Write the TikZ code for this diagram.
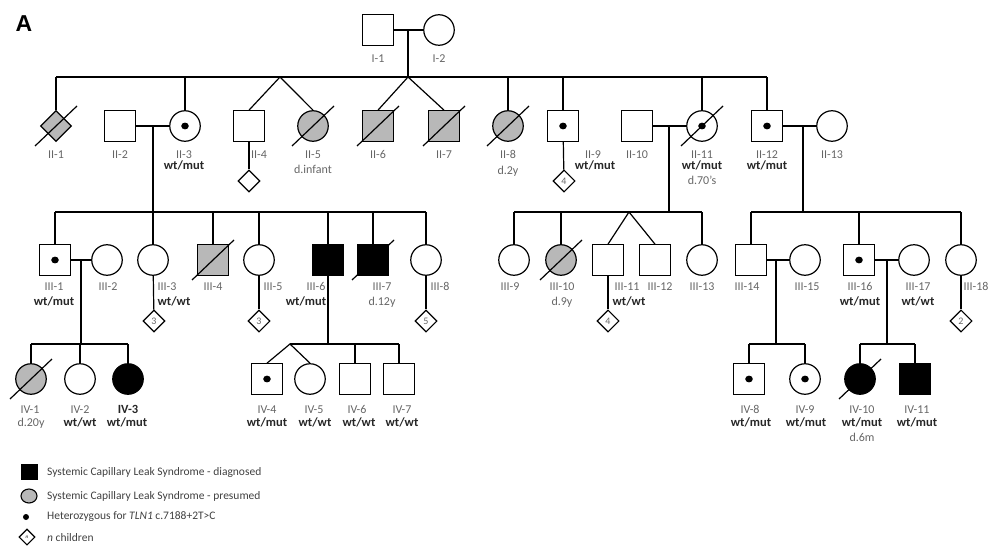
\documentclass[tikz,border=0pt]{standalone}
\usepackage{fontspec}
\setmainfont{Carlito}
\newfontfamily\panelfont{Liberation Sans}
\usetikzlibrary{shapes.geometric}
\colorlet{idgray}{black!60}
\colorlet{affgray}{black!28}
\tikzset{
  person/.style = {draw, line width=1.2pt, inner sep=0pt, minimum size=30.5pt},
  male/.style = {person, rectangle},
  female/.style = {person, circle},
  unknown/.style = {person, diamond, minimum size=31pt},
  kids/.style = {draw, line width=1.1pt, diamond, inner sep=0pt, minimum size=22pt,
    font=\fontsize{10}{10}\selectfont, text=idgray},
  diagnosed/.style = {fill=black},
  presumed/.style = {fill=affgray},
  carrier/.style = {path picture={\fill[black] (path picture bounding box.center) ellipse (3.8pt and 3.4pt);}},
  line/.style = {line width=1.2pt},
  idtext/.style = {font=\fontsize{12}{12}\selectfont, text=idgray, inner sep=0pt, text height=8pt, text depth=2pt},
  geno/.style = {font=\fontsize{12.5}{12.5}\selectfont\bfseries, text=black!85, inner sep=0pt, text height=8pt, text depth=2pt},
  keytext/.style = {font=\fontsize{11.5}{11.5}\selectfont, text=black!75, anchor=west, inner sep=0pt}
}
\newcommand{\deceased}[1]{\draw[line] ([shift={(-21,20)}]#1.center) -- ([shift={(21,-20)}]#1.center);}

\begin{document}
\begin{tikzpicture}[x=1pt,y=-1pt]
  \useasboundingbox (0,0) rectangle (1000,556);
  \node[font=\panelfont\bfseries\fontsize{23}{23}\selectfont] (panel) at (24,24) {A};
  % generation I
  \node[male] (I1) at (378,30) {};
  \node[female] (I2) at (439,30) {};
  \coordinate (mI) at (408,30);
  \coordinate (sI) at (408,77);
  \draw[line] (I1) -- (I2);
  \draw[line] (mI) -- (sI);
  % generation II
  \node[unknown,presumed] (II1) at (56,126) {};
  \node[male] (II2) at (120,126) {};
  \node[female,carrier] (II3) at (185,126) {};
  \node[male] (II4) at (249,126) {};
  \node[female,presumed] (II5) at (313,126) {};
  \node[male,presumed] (II6) at (378,126) {};
  \node[male,presumed] (II7) at (444,126) {};
  \node[female,presumed] (II8) at (508,126) {};
  \node[male,carrier] (II9) at (563,126) {};
  \node[male] (II10) at (637,126) {};
  \node[female,carrier] (II11) at (702,126) {};
  \node[male,carrier] (II12) at (767,126) {};
  \node[female] (II13) at (832,126) {};
  \foreach \p in {II1,II5,II6,II7,II8,II11} {\deceased{\p}}
  \draw[line] (II1.north |- sI) -- (II12.north |- sI);
  \foreach \c in {II1,II3,II8,II9,II11,II12} {\draw[line] (\c.north) -- (\c.north |- sI);}
  \coordinate (twII) at (280,77);
  \draw[line] (II4.north) -- (twII) -- (II5.north);
  \draw[line] (II6.north) -- (sI) -- (II7.north);
  \node[kids] (kII4) at (249,181) {};
  \node[kids] (kII9) at (564,181) {4};
  \draw[line] (II4) -- (kII4);
  \draw[line] (II9) -- (kII9);
  % couples of generation II
  \coordinate (mII3) at (153,126);
  \coordinate (sII3) at (153,212);
  \coordinate (mII11) at (669,126);
  \coordinate (sII11) at (669,212);
  \coordinate (mII12) at (803,126);
  \coordinate (sII12) at (803,212);
  \draw[line] (II2) -- (II3);
  \draw[line] (II10) -- (II11);
  \draw[line] (II12) -- (II13);
  \draw[line] (mII3) -- (sII3);
  \draw[line] (mII11) -- (sII11);
  \draw[line] (mII12) -- (sII12);
  % generation III
  \node[male,carrier] (III1) at (55,260) {};
  \node[female] (III2) at (107,260) {};
  \node[female] (III3) at (153,260) {};
  \node[male,presumed] (III4) at (213,260) {};
  \node[female] (III5) at (259,260) {};
  \node[male,diagnosed] (III6) at (328,260) {};
  \node[male,diagnosed] (III7) at (373,260) {};
  \node[female] (III8) at (426,260) {};
  \node[female] (III9) at (514,260) {};
  \node[female,presumed] (III10) at (561,260) {};
  \node[male] (III11) at (608,260) {};
  \node[male] (III12) at (655,260) {};
  \node[female] (III13) at (702,260) {};
  \node[male] (III14) at (751,260) {};
  \node[female] (III15) at (805,260) {};
  \node[male,carrier] (III16) at (859,260) {};
  \node[female] (III17) at (914,260) {};
  \node[female] (III18) at (961,260) {};
  \foreach \p in {III4,III7,III10} {\deceased{\p}}
  \draw[line] (III1.north |- sII3) -- (III8.north |- sII3);
  \foreach \c in {III1,III3,III4,III5,III6,III7,III8} {\draw[line] (\c.north) -- (\c.north |- sII3);}
  \draw[line] (III9.north |- sII11) -- (III13.north |- sII11);
  \foreach \c in {III9,III10,III13} {\draw[line] (\c.north) -- (\c.north |- sII11);}
  \coordinate (twIII) at (629,212);
  \draw[line] (III11.north) -- (twIII) -- (III12.north);
  \draw[line] (III14.north |- sII12) -- (III18.north |- sII12);
  \foreach \c in {III14,III16,III18} {\draw[line] (\c.north) -- (\c.north |- sII12);}
  \node[kids] (kIII3) at (154,321) {3};
  \node[kids] (kIII5) at (259,321) {3};
  \node[kids] (kIII8) at (426,321) {5};
  \node[kids] (kIII11) at (608,321) {4};
  \node[kids] (kIII18) at (961,321) {2};
  \foreach \p in {III3,III5,III8,III11,III18} {\draw[line] (\p) -- (k\p);}
  % couples of generation III
  \coordinate (mIII1) at (81,260);
  \coordinate (sIII1) at (81,344);
  \coordinate (sIII6) at (328,344);
  \coordinate (mIII14) at (776,260);
  \coordinate (sIII14) at (776,344);
  \coordinate (mIII16) at (887,260);
  \coordinate (sIII16) at (887,344);
  \draw[line] (III1) -- (III2);
  \draw[line] (III14) -- (III15);
  \draw[line] (III16) -- (III17);
  \draw[line] (mIII1) -- (sIII1);
  \draw[line] (III6.south) -- (sIII6);
  \draw[line] (mIII14) -- (sIII14);
  \draw[line] (mIII16) -- (sIII16);
  % generation IV
  \node[female,presumed] (IV1) at (31,379) {};
  \node[female] (IV2) at (80,379) {};
  \node[female,diagnosed] (IV3) at (128,379) {};
  \node[male,carrier] (IV4) at (267,379) {};
  \node[female] (IV5) at (310,379) {};
  \node[male] (IV6) at (355,379) {};
  \node[male] (IV7) at (399,379) {};
  \node[male,carrier] (IV8) at (749,379) {};
  \node[female,carrier] (IV9) at (805,379) {};
  \node[female,diagnosed] (IV10) at (860,379) {};
  \node[male,diagnosed] (IV11) at (915,379) {};
  \foreach \p in {IV1,IV10} {\deceased{\p}}
  \draw[line] (IV1.north |- sIII1) -- (IV3.north |- sIII1);
  \foreach \c in {IV1,IV2,IV3} {\draw[line] (\c.north) -- (\c.north |- sIII1);}
  \coordinate (twIV) at (290,344);
  \draw[line] (twIV) -- (IV7.north |- sIII6);
  \draw[line] (IV4.north) -- (twIV) -- (IV5.north);
  \foreach \c in {IV6,IV7} {\draw[line] (\c.north) -- (\c.north |- sIII6);}
  \draw[line] (IV8.north |- sIII14) -- (IV9.north |- sIII14);
  \foreach \c in {IV8,IV9} {\draw[line] (\c.north) -- (\c.north |- sIII14);}
  \draw[line] (IV10.north |- sIII16) -- (IV11.north |- sIII16);
  \foreach \c in {IV10,IV11} {\draw[line] (\c.north) -- (\c.north |- sIII16);}
  % labels
  \foreach \n/\x/\y in {I-1/378/60, I-2/439/60,
    II-1/56/156, II-2/120/156, II-3/184/156, II-4/259/156, II-5/313/156, II-6/378/156,
    II-7/444/156, II-8/508/156, II-9/593/156, II-10/637/156, II-11/702/156, II-12/767/156,
    II-13/832/156,
    III-1/54/287, III-2/108/287, III-3/167/287, III-4/213/287, III-5/273/287, III-6/316/287,
    III-7/382/287, III-8/440/287, III-9/510/287, III-10/562/287, III-11/627/287,
    III-12/660/287, III-13/702/287, III-14/747/287, III-15/807/287, III-16/860/287,
    III-17/918/287, III-18/976/287,
    IV-1/30/410, IV-2/80/410, IV-4/267/410, IV-5/314/410, IV-6/357/410, IV-7/402/410,
    IV-8/750/410, IV-9/805/410, IV-10/862/410, IV-11/917/410}
    {\node[idtext] (id\n) at (\x,\y) {\n};}
  \node[geno] (idIV-3) at (128,410) {IV-3};
  \foreach \k/\g/\x/\y in {a/wt\slash mut/184/167, b/wt\slash mut/595/167, c/wt\slash mut/702/167,
    d/wt\slash mut/767/167, e/wt\slash mut/54/302, f/wt\slash wt/174/302, g/wt\slash mut/306/302,
    h/wt\slash wt/629/302, i/wt\slash mut/860/302, j/wt\slash wt/918/302,
    k/wt\slash wt/80/423, l/wt\slash mut/127/423, m/wt\slash mut/267/423, n/wt\slash wt/315/423,
    o/wt\slash wt/359/423, p/wt\slash wt/402/423, q/wt\slash mut/751/423, r/wt\slash mut/806/423,
    s/wt\slash mut/862/423, t/wt\slash mut/917/423}
    {\node[geno] (gt\k) at (\x,\y) {\g};}
  \node[idtext] (dII5) at (313,171) {d.infant};
  \node[idtext] (dII8) at (508,172) {d.2y};
  \node[idtext] (dII11) at (702,182) {d.70's};
  \node[idtext] (dIII7) at (382,302) {d.12y};
  \node[idtext] (dIII10) at (562,302) {d.9y};
  \node[idtext] (dIV1) at (31,423) {d.20y};
  \node[idtext] (dIV10) at (862,438) {d.6m};
  % key
  \node[draw, fill=black, minimum width=16pt, minimum height=15pt, inner sep=0pt] (keyDx) at (29,472) {};
  \node[draw, line width=1.1pt, fill=affgray, ellipse, minimum width=16pt, minimum height=14pt, inner sep=0pt] (keyPr) at (29,496) {};
  \node[fill=black, circle, minimum size=6pt, inner sep=0pt] (keyCar) at (26,517) {};
  \node[draw, line width=1.1pt, diamond, minimum size=16pt, inner sep=0pt, font=\fontsize{5}{5}\selectfont\itshape] (keyKids) at (27,537) {n};
  \node[keytext] (txtDx) at (47,472) {Systemic Capillary Leak Syndrome - diagnosed};
  \node[keytext] (txtPr) at (47,496) {Systemic Capillary Leak Syndrome - presumed};
  \node[keytext] (txtCar) at (47,517) {Heterozygous for \textit{TLN1} c.7188+2T>C};
  \node[keytext] (txtKids) at (47,538) {\textit{n} children};
\end{tikzpicture}
\end{document}
